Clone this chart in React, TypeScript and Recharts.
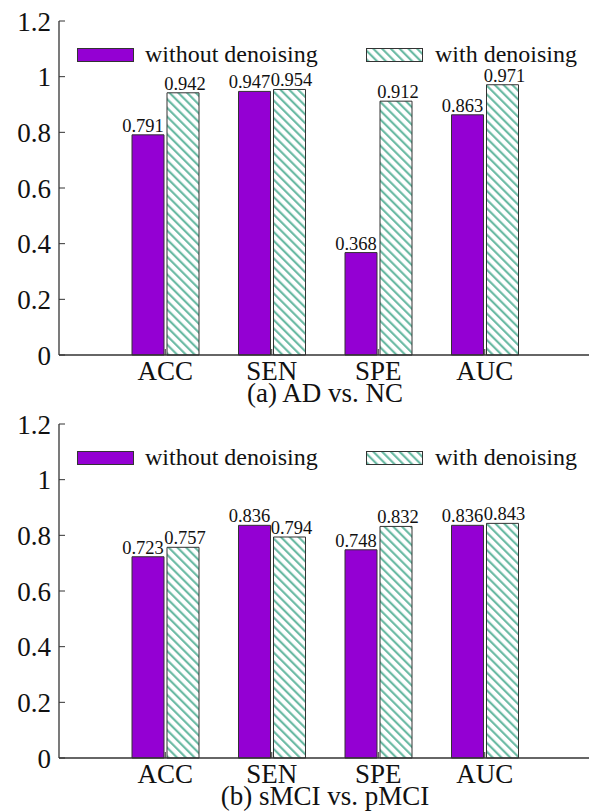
import { Bar, BarChart, LabelList, Legend, XAxis, YAxis } from "recharts";

const categories = ["ACC", "SEN", "SPE", "AUC"];
const adWithout = [0.791, 0.947, 0.368, 0.863];
const adWith = [0.942, 0.954, 0.912, 0.971];
const mciWithout = [0.723, 0.836, 0.748, 0.836];
const mciWith = [0.757, 0.794, 0.832, 0.843];
const yTicks = [0, 0.2, 0.4, 0.6, 0.8, 1, 1.2];
const seriesNames = ["without denoising", "with denoising"];

const FONT = '"Liberation Serif", "Times New Roman", serif';
const PURPLE = "#9400d3";
const TEAL = "#5fb59d";
const EDGE = "#333";

const buildData = (a: number[], b: number[]) =>
  categories.map((name, i) => ({ name, without: a[i], with: b[i] }));

// value labels sit a little above each bar, purple ones nudged left
const valueLabel = (dx: number) => (props: any) => {
  const { x, y, width, value } = props;
  return (
    <text
      x={Number(x) + Number(width) / 2 + dx}
      y={Number(y) - 3}
      textAnchor="middle"
      fontFamily={FONT}
      fontSize={18.5}
      fill="#111"
    >
      {Number(value).toFixed(3)}
    </text>
  );
};

function LegendBox({ hatchId }: { hatchId: string }) {
  const box: React.CSSProperties = {
    position: "absolute",
    top: 6,
    width: 57,
    height: 14,
    boxSizing: "border-box",
    border: `1px solid ${EDGE}`,
  };
  const text: React.CSSProperties = {
    position: "absolute",
    top: 0,
    lineHeight: "24px",
    fontSize: 24,
    fontFamily: FONT,
    color: "#111",
    whiteSpace: "nowrap",
  };
  return (
    <div style={{ position: "relative", width: 512, height: 24 }}>
      <div style={{ ...box, left: 0, background: PURPLE }} />
      <div style={{ ...text, left: 68 }}>{seriesNames[0]}</div>
      <svg style={{ ...box, left: 289, border: "none" }} width={57} height={14}>
        <rect x={0.5} y={0.5} width={56} height={13} fill={`url(#${hatchId})`} stroke={EDGE} />
      </svg>
      <div style={{ ...text, left: 358 }}>{seriesNames[1]}</div>
    </div>
  );
}

interface PanelProps {
  id: string;
  title: string;
  without: number[];
  withD: number[];
  top: number;
}

function Panel({ id, title, without, withD, top }: PanelProps) {
  const data = buildData(without, withD);
  const hatchId = `hatch-${id}`;
  const pad = { left: 53, right: 53 };
  const axisLine = { stroke: EDGE, strokeWidth: 1.3 };
  return (
    <div style={{ position: "absolute", left: 0, top }}>
      <BarChart
        width={600}
        height={403}
        data={data}
        margin={{ top: 21, right: 9, left: 0, bottom: 0 }}
        barGap={3}
        barSize={32}
      >
        <defs>
          <pattern
            id={hatchId}
            patternUnits="userSpaceOnUse"
            width={6.2}
            height={6.2}
            patternTransform="rotate(45)"
          >
            <rect width={6.2} height={6.2} fill="#fff" />
            <line x1={0} y1={1.5} x2={6.2} y2={1.5} stroke={TEAL} strokeWidth={2} />
          </pattern>
        </defs>
        {/* negative tickSize turns the tick marks inward, as in the original plot */}
        <XAxis
          dataKey="name"
          padding={pad}
          height={48}
          axisLine={axisLine}
          tickLine={{ stroke: EDGE }}
          tickSize={-6}
          tickMargin={12}
          tick={{ fontFamily: FONT, fontSize: 27, fill: "#111" }}
          label={{
            value: title,
            position: "insideBottom",
            offset: 1,
            fontFamily: FONT,
            fontSize: 27,
            fill: "#111",
          }}
        />
        <XAxis
          xAxisId="top"
          dataKey="name"
          padding={pad}
          orientation="top"
          height={0}
          axisLine={axisLine}
          tickLine={{ stroke: EDGE }}
          tick={false}
          tickSize={-6}
        />
        <YAxis
          width={59}
          domain={[0, 1.2]}
          ticks={yTicks}
          axisLine={axisLine}
          tickLine={{ stroke: EDGE }}
          tickSize={-6}
          tickMargin={14}
          tick={{ fontFamily: FONT, fontSize: 27, fill: "#111" }}
        />
        <YAxis
          yAxisId="right"
          orientation="right"
          width={0}
          domain={[0, 1.2]}
          ticks={yTicks}
          axisLine={axisLine}
          tickLine={{ stroke: EDGE }}
          tick={false}
          tickSize={-6}
        />
        <Legend
          layout="horizontal"
          align="center"
          verticalAlign="middle"
          wrapperStyle={{ top: 42, left: 77, width: 512, height: 24 }}
          content={() => <LegendBox hatchId={hatchId} />}
        />
        <Bar
          dataKey="without"
          name={seriesNames[0]}
          fill={PURPLE}
          stroke={EDGE}
          strokeWidth={1}
          isAnimationActive={false}
        >
          <LabelList dataKey="without" content={valueLabel(-5)} />
        </Bar>
        <Bar
          dataKey="with"
          name={seriesNames[1]}
          fill={`url(#${hatchId})`}
          stroke={EDGE}
          strokeWidth={1}
          isAnimationActive={false}
        >
          <LabelList dataKey="with" content={valueLabel(2)} />
        </Bar>
      </BarChart>
    </div>
  );
}

export default function App() {
  return (
    <div
      style={{
        position: "absolute",
        left: 0,
        top: 0,
        width: 589,
        height: 811,
        overflow: "hidden",
        background: "#fff",
      }}
    >
      <style>{`body { margin: 0; overflow: hidden; } .recharts-surface { overflow: visible; }`}</style>
      <Panel id="a" title="(a) AD vs. NC" without={adWithout} withD={adWith} top={0} />
      <Panel id="b" title="(b) sMCI vs. pMCI" without={mciWithout} withD={mciWith} top={403} />
    </div>
  );
}
